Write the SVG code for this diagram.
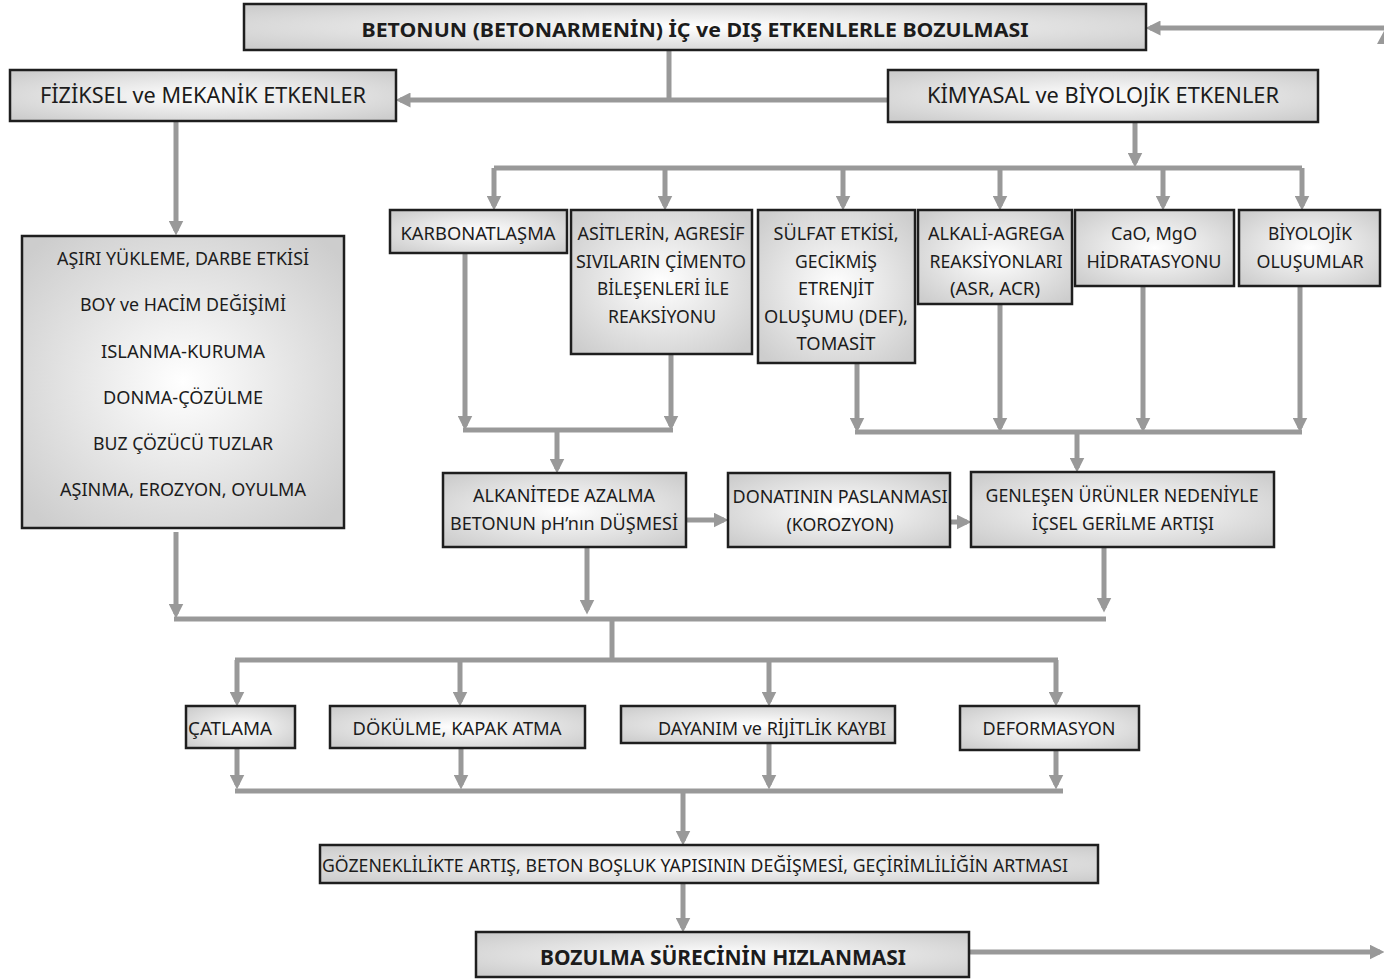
<svg xmlns="http://www.w3.org/2000/svg" width="1384" height="979" viewBox="0 0 1384 979">
<defs>
<radialGradient id="g" cx="50%" cy="50%" r="65%">
<stop offset="0" stop-color="#ffffff"/>
<stop offset="1" stop-color="#cdcdcd"/>
</radialGradient>
<marker id="ah" viewBox="0 0 10 10" refX="7" refY="5" markerWidth="15" markerHeight="15" markerUnits="userSpaceOnUse" orient="auto">
<path d="M0,0 L10,5 L0,10 Z" fill="#999"/>
</marker>
<style>
.b{fill:url(#g);stroke:#1e1e1e;stroke-width:2.5}
.t{font-family:"Noto Sans","Open Sans",sans-serif;font-size:17.5px;fill:#1c1c1c;text-anchor:middle}
.h{font-size:21px}
.bd{font-weight:bold;font-size:19.5px}
.l{text-anchor:start}
.c path{fill:none;stroke:#999;stroke-width:5}
.c .a{marker-end:url(#ah)}
</style>
</defs>
<rect width="1384" height="979" fill="#fff"/>
<g class="c" id="connectors">
<path d="M669 50V100"/>
<path class="a" d="M888 100H400"/>
<path class="a" d="M176 121V231"/>
<path class="a" d="M1135 122V163"/>
<path d="M494 168H1302"/>
<path class="a" d="M494 168V206"/>
<path class="a" d="M665 168V206"/>
<path class="a" d="M843 168V206"/>
<path class="a" d="M1000 168V206"/>
<path class="a" d="M1163 168V206"/>
<path class="a" d="M1302 168V206"/>
<path class="a" d="M465 253V426"/>
<path class="a" d="M671 354V426"/>
<path d="M463 430H673"/>
<path class="a" d="M557 430V469"/>
<path class="a" d="M857 363V428"/>
<path class="a" d="M1000 304V428"/>
<path class="a" d="M1143 286V428"/>
<path class="a" d="M1300 286V428"/>
<path d="M855 432H1302"/>
<path class="a" d="M1077 432V468"/>
<path class="a" d="M686 520H724"/>
<path class="a" d="M950 522H967"/>
<path class="a" d="M176 532V614"/>
<path class="a" d="M587 547V610"/>
<path class="a" d="M1104 547V608"/>
<path d="M174 619H1106"/>
<path d="M612 619V660"/>
<path d="M235 660H1058"/>
<path class="a" d="M237 660V702"/>
<path class="a" d="M460 660V702"/>
<path class="a" d="M769 660V702"/>
<path class="a" d="M1056 660V702"/>
<path class="a" d="M237 748V785"/>
<path class="a" d="M461 748V785"/>
<path class="a" d="M769 743V785"/>
<path class="a" d="M1056 750V785"/>
<path d="M235 791H1063"/>
<path class="a" d="M683 791V841"/>
<path class="a" d="M683 883V928"/>
<path class="a" d="M969 952H1380"/>
<path class="a" d="M1384 28H1150"/>
<polygon points="1377,44 1384,31 1384,44" fill="#999"/>
</g>
<g id="n-top"><rect class="b" x="244" y="4" width="902" height="46"/><text class="t bd" x="695" y="37" textLength="667" lengthAdjust="spacingAndGlyphs">BETONUN (BETONARMENİN) İÇ ve DIŞ ETKENLERLE BOZULMASI</text></g>
<g id="n-fiz"><rect class="b" x="10" y="70" width="386" height="51"/><text class="t h" x="203" y="103" textLength="326" lengthAdjust="spacingAndGlyphs">FİZİKSEL ve MEKANİK ETKENLER</text></g>
<g id="n-kim"><rect class="b" x="888" y="70" width="430" height="52"/><text class="t h" x="1103" y="103" textLength="352" lengthAdjust="spacingAndGlyphs">KİMYASAL ve BİYOLOJİK ETKENLER</text></g>
<g id="n-asiri"><rect class="b" x="22" y="236" width="322" height="292"/>
<text class="t" x="183" y="265" textLength="252" lengthAdjust="spacingAndGlyphs">AŞIRI YÜKLEME, DARBE ETKİSİ</text>
<text class="t" x="183" y="311" textLength="206" lengthAdjust="spacingAndGlyphs">BOY ve HACİM DEĞİŞİMİ</text>
<text class="t" x="183" y="358" textLength="164" lengthAdjust="spacingAndGlyphs">ISLANMA-KURUMA</text>
<text class="t" x="183" y="404" textLength="160" lengthAdjust="spacingAndGlyphs">DONMA-ÇÖZÜLME</text>
<text class="t" x="183" y="450" textLength="180" lengthAdjust="spacingAndGlyphs">BUZ ÇÖZÜCÜ TUZLAR</text>
<text class="t" x="183" y="496" textLength="246" lengthAdjust="spacingAndGlyphs">AŞINMA, EROZYON, OYULMA</text></g>
<g id="n-karb"><rect class="b" x="390" y="210" width="177" height="43"/><text class="t" x="478" y="240" textLength="155" lengthAdjust="spacingAndGlyphs">KARBONATLAŞMA</text></g>
<g id="n-asit"><rect class="b" x="571" y="210" width="181" height="144"/>
<text class="t" x="661" y="240" textLength="167" lengthAdjust="spacingAndGlyphs">ASİTLERİN, AGRESİF</text>
<text class="t" x="661" y="268" textLength="170" lengthAdjust="spacingAndGlyphs">SIVILARIN ÇİMENTO</text>
<text class="t" x="663" y="295" textLength="132" lengthAdjust="spacingAndGlyphs">BİLEŞENLERİ İLE</text>
<text class="t" x="662" y="323" textLength="108" lengthAdjust="spacingAndGlyphs">REAKSİYONU</text></g>
<g id="n-sulf"><rect class="b" x="758" y="210" width="157" height="153"/>
<text class="t" x="836" y="240" textLength="125" lengthAdjust="spacingAndGlyphs">SÜLFAT ETKİSİ,</text>
<text class="t" x="836" y="268" textLength="82" lengthAdjust="spacingAndGlyphs">GECİKMİŞ</text>
<text class="t" x="836" y="295" textLength="76" lengthAdjust="spacingAndGlyphs">ETRENJİT</text>
<text class="t" x="836" y="323" textLength="144" lengthAdjust="spacingAndGlyphs">OLUŞUMU (DEF),</text>
<text class="t" x="836" y="350" textLength="79" lengthAdjust="spacingAndGlyphs">TOMASİT</text></g>
<g id="n-alk"><rect class="b" x="918" y="210" width="154" height="94"/>
<text class="t" x="996" y="240" textLength="136" lengthAdjust="spacingAndGlyphs">ALKALİ-AGREGA</text>
<text class="t" x="996" y="268" textLength="133" lengthAdjust="spacingAndGlyphs">REAKSİYONLARI</text>
<text class="t" x="995" y="295" textLength="90" lengthAdjust="spacingAndGlyphs">(ASR, ACR)</text></g>
<g id="n-cao"><rect class="b" x="1075" y="210" width="159" height="76"/>
<text class="t" x="1154" y="240" textLength="86" lengthAdjust="spacingAndGlyphs">CaO, MgO</text>
<text class="t" x="1154" y="268" textLength="135" lengthAdjust="spacingAndGlyphs">HİDRATASYONU</text></g>
<g id="n-biyo"><rect class="b" x="1239" y="210" width="141" height="76"/>
<text class="t" x="1310" y="240" textLength="84" lengthAdjust="spacingAndGlyphs">BİYOLOJİK</text>
<text class="t" x="1310" y="268" textLength="107" lengthAdjust="spacingAndGlyphs">OLUŞUMLAR</text></g>
<g id="n-alka"><rect class="b" x="443" y="473" width="243" height="74"/>
<text class="t" x="564" y="502" textLength="182" lengthAdjust="spacingAndGlyphs">ALKANİTEDE AZALMA</text>
<text class="t" x="564" y="530" textLength="228" lengthAdjust="spacingAndGlyphs">BETONUN pH’nın DÜŞMESİ</text></g>
<g id="n-don"><rect class="b" x="728" y="473" width="222" height="74"/>
<text class="t" x="840" y="503" textLength="215" lengthAdjust="spacingAndGlyphs">DONATININ PASLANMASI</text>
<text class="t" x="840" y="531" textLength="107" lengthAdjust="spacingAndGlyphs">(KOROZYON)</text></g>
<g id="n-genl"><rect class="b" x="971" y="472" width="303" height="75"/>
<text class="t" x="1122" y="502" textLength="273" lengthAdjust="spacingAndGlyphs">GENLEŞEN ÜRÜNLER NEDENİYLE</text>
<text class="t" x="1123" y="530" textLength="182" lengthAdjust="spacingAndGlyphs">İÇSEL GERİLME ARTIŞI</text></g>
<g id="n-catl"><rect class="b" x="186" y="706" width="109" height="42"/><text class="t l" x="188" y="735" textLength="84" lengthAdjust="spacingAndGlyphs">ÇATLAMA</text></g>
<g id="n-dok"><rect class="b" x="330" y="706" width="255" height="42"/><text class="t" x="457" y="735" textLength="209" lengthAdjust="spacingAndGlyphs">DÖKÜLME, KAPAK ATMA</text></g>
<g id="n-day"><rect class="b" x="621" y="706" width="274" height="37"/><text class="t" x="772" y="735" textLength="228" lengthAdjust="spacingAndGlyphs">DAYANIM ve RİJİTLİK KAYBI</text></g>
<g id="n-def"><rect class="b" x="960" y="706" width="179" height="44"/><text class="t" x="1049" y="735" textLength="133" lengthAdjust="spacingAndGlyphs">DEFORMASYON</text></g>
<g id="n-goz"><rect class="b" x="320" y="845" width="778" height="38"/><text class="t l" x="322" y="872" textLength="746" lengthAdjust="spacingAndGlyphs">GÖZENEKLİLİKTE ARTIŞ, BETON BOŞLUK YAPISININ DEĞİŞMESİ, GEÇİRİMLİLİĞİN ARTMASI</text></g>
<g id="n-boz"><rect class="b" x="476" y="932" width="493" height="45"/><text class="t bd" x="723" y="965" textLength="366" lengthAdjust="spacingAndGlyphs" style="font-size:20.5px">BOZULMA SÜRECİNİN HIZLANMASI</text></g>
</svg>
